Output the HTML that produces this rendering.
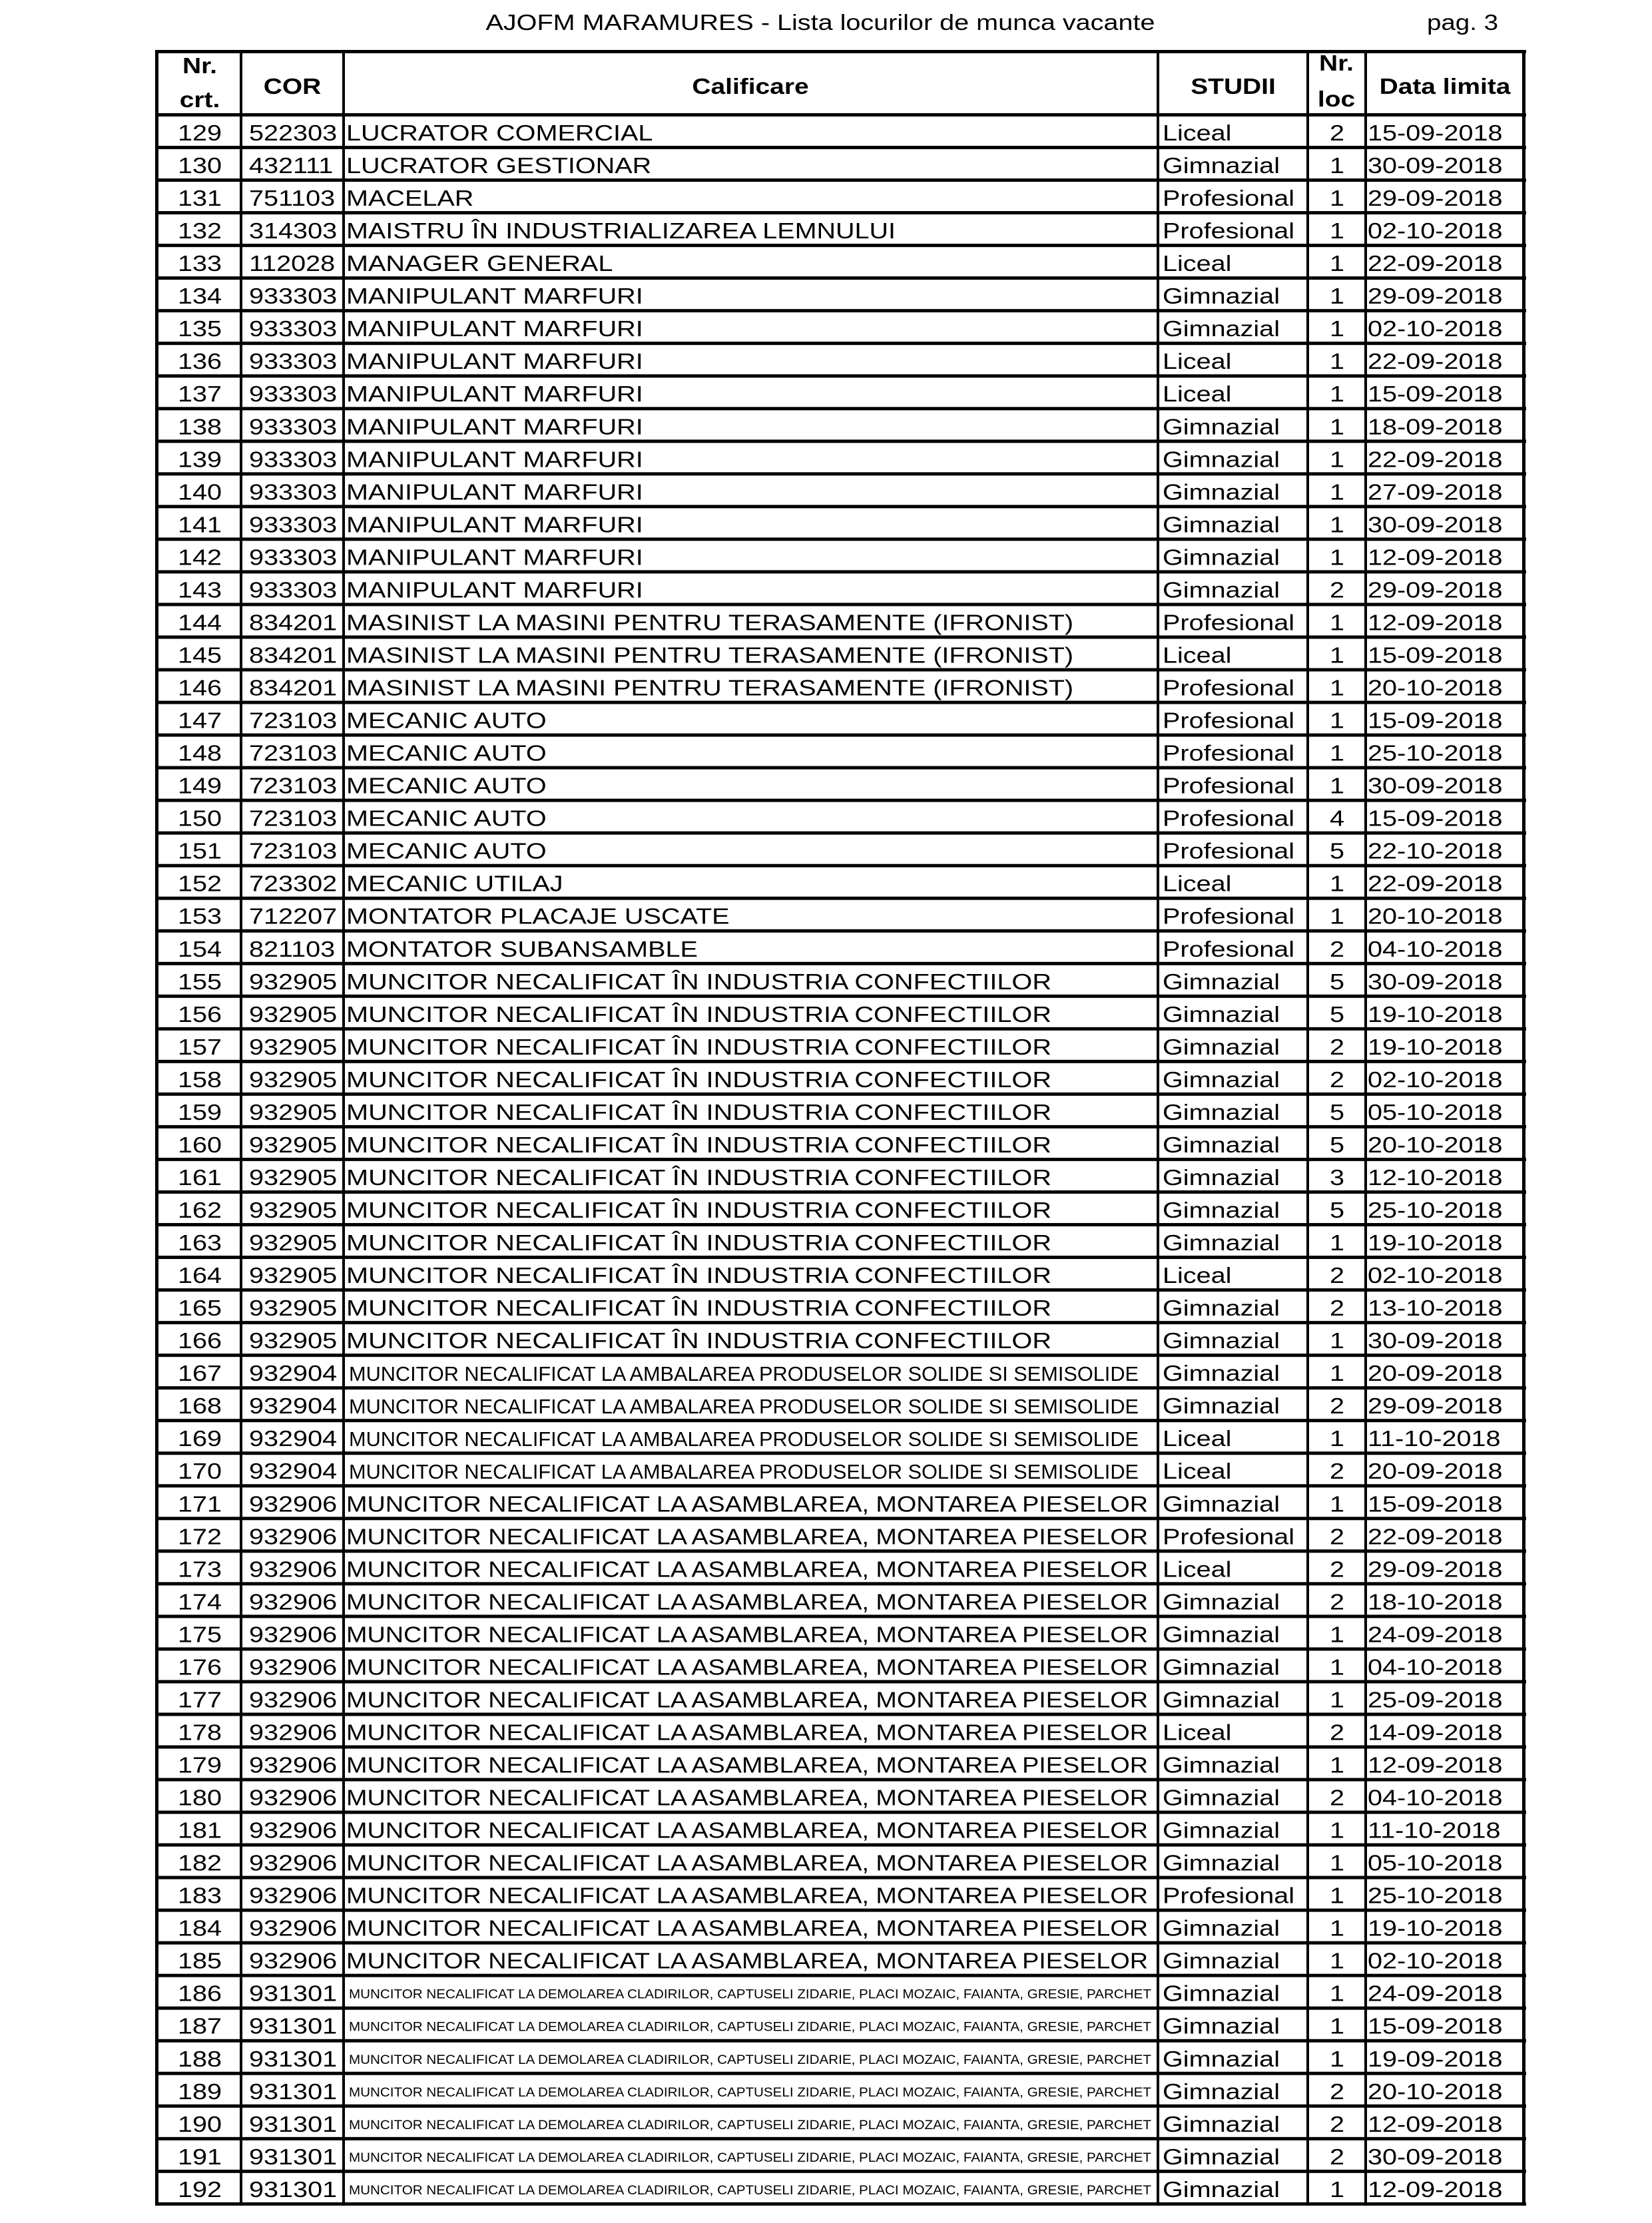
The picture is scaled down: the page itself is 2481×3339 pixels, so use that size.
<!DOCTYPE html>
<html><head><meta charset="utf-8"><style>
html,body{margin:0;padding:0;background:#fff;}
svg{display:block}
text{font-family:"Liberation Sans",sans-serif;fill:#000;font-size:33px}
.b{font-weight:bold}
.m{text-anchor:middle}
.s{font-size:31px}
.t{font-size:19px}
</style></head><body>
<svg width="2481" height="3339" viewBox="0 0 2481 3339" xmlns="http://www.w3.org/2000/svg">
<defs><pattern id="p" x="0" y="170" width="20" height="49.03" patternUnits="userSpaceOnUse"><rect x="0" y="0" width="20" height="5" fill="#000"/></pattern></defs>
<text class="m" style="font-size:33px" x="1232" y="45" textLength="1005" lengthAdjust="spacingAndGlyphs">AJOFM MARAMURES - Lista locurilor de munca vacante</text>
<text style="font-size:33px" x="2143" y="45" textLength="107" lengthAdjust="spacingAndGlyphs">pag. 3</text>
<rect x="233" y="75" width="2059" height="5" fill="#000"/>
<rect x="233" y="170" width="2059" height="3143" fill="url(#p)"/>
<g fill="#000">
<rect x="233" y="75" width="5" height="3238"/>
<rect x="360" y="75" width="4" height="3238"/>
<rect x="514" y="75" width="4" height="3238"/>
<rect x="1737" y="75" width="4" height="3238"/>
<rect x="1962" y="75" width="4" height="3238"/>
<rect x="2049" y="75" width="4" height="3238"/>
<rect x="2286" y="75" width="5" height="3238"/>
</g>
<g class="b">
<text class="b m" transform="translate(300,110) scale(1.18,1)">Nr.</text>
<text class="b m" transform="translate(300,161) scale(1.18,1)">crt.</text>
<text class="b m" transform="translate(439,141) scale(1.18,1)">COR</text>
<text class="b m" transform="translate(1127,141) scale(1.18,1)">Calificare</text>
<text class="b m" transform="translate(1852,141) scale(1.18,1)">STUDII</text>
<text class="b m" transform="translate(2007,106) scale(1.18,1)">Nr.</text>
<text class="b m" transform="translate(2007,160) scale(1.18,1)">loc</text>
<text class="b m" transform="translate(2170,141) scale(1.18,1)">Data limita</text>
</g>

<g transform="translate(0,211)"><text class="m" transform="translate(300,0) scale(1.2,1)">129</text><text transform="translate(374,0) scale(1.2,1)">522303</text><text transform="translate(520,0) scale(1.2,1)">LUCRATOR COMERCIAL</text><text transform="translate(1746,0) scale(1.2,1)">Liceal</text><text class="m" transform="translate(2008,0) scale(1.2,1)">2</text><text transform="translate(2054,0) scale(1.2,1)">15-09-2018</text></g>
<g transform="translate(0,260)"><text class="m" transform="translate(300,0) scale(1.2,1)">130</text><text transform="translate(374,0) scale(1.2,1)">432111</text><text transform="translate(520,0) scale(1.2,1)">LUCRATOR GESTIONAR</text><text transform="translate(1746,0) scale(1.2,1)">Gimnazial</text><text class="m" transform="translate(2008,0) scale(1.2,1)">1</text><text transform="translate(2054,0) scale(1.2,1)">30-09-2018</text></g>
<g transform="translate(0,309.1)"><text class="m" transform="translate(300,0) scale(1.2,1)">131</text><text transform="translate(374,0) scale(1.2,1)">751103</text><text transform="translate(520,0) scale(1.2,1)">MACELAR</text><text transform="translate(1746,0) scale(1.2,1)">Profesional</text><text class="m" transform="translate(2008,0) scale(1.2,1)">1</text><text transform="translate(2054,0) scale(1.2,1)">29-09-2018</text></g>
<g transform="translate(0,358.1)"><text class="m" transform="translate(300,0) scale(1.2,1)">132</text><text transform="translate(374,0) scale(1.2,1)">314303</text><text x="520" textLength="825" lengthAdjust="spacingAndGlyphs">MAISTRU ÎN INDUSTRIALIZAREA LEMNULUI</text><text transform="translate(1746,0) scale(1.2,1)">Profesional</text><text class="m" transform="translate(2008,0) scale(1.2,1)">1</text><text transform="translate(2054,0) scale(1.2,1)">02-10-2018</text></g>
<g transform="translate(0,407.1)"><text class="m" transform="translate(300,0) scale(1.2,1)">133</text><text transform="translate(374,0) scale(1.2,1)">112028</text><text transform="translate(520,0) scale(1.2,1)">MANAGER GENERAL</text><text transform="translate(1746,0) scale(1.2,1)">Liceal</text><text class="m" transform="translate(2008,0) scale(1.2,1)">1</text><text transform="translate(2054,0) scale(1.2,1)">22-09-2018</text></g>
<g transform="translate(0,456.2)"><text class="m" transform="translate(300,0) scale(1.2,1)">134</text><text transform="translate(374,0) scale(1.2,1)">933303</text><text transform="translate(520,0) scale(1.2,1)">MANIPULANT MARFURI</text><text transform="translate(1746,0) scale(1.2,1)">Gimnazial</text><text class="m" transform="translate(2008,0) scale(1.2,1)">1</text><text transform="translate(2054,0) scale(1.2,1)">29-09-2018</text></g>
<g transform="translate(0,505.2)"><text class="m" transform="translate(300,0) scale(1.2,1)">135</text><text transform="translate(374,0) scale(1.2,1)">933303</text><text transform="translate(520,0) scale(1.2,1)">MANIPULANT MARFURI</text><text transform="translate(1746,0) scale(1.2,1)">Gimnazial</text><text class="m" transform="translate(2008,0) scale(1.2,1)">1</text><text transform="translate(2054,0) scale(1.2,1)">02-10-2018</text></g>
<g transform="translate(0,554.2)"><text class="m" transform="translate(300,0) scale(1.2,1)">136</text><text transform="translate(374,0) scale(1.2,1)">933303</text><text transform="translate(520,0) scale(1.2,1)">MANIPULANT MARFURI</text><text transform="translate(1746,0) scale(1.2,1)">Liceal</text><text class="m" transform="translate(2008,0) scale(1.2,1)">1</text><text transform="translate(2054,0) scale(1.2,1)">22-09-2018</text></g>
<g transform="translate(0,603.2)"><text class="m" transform="translate(300,0) scale(1.2,1)">137</text><text transform="translate(374,0) scale(1.2,1)">933303</text><text transform="translate(520,0) scale(1.2,1)">MANIPULANT MARFURI</text><text transform="translate(1746,0) scale(1.2,1)">Liceal</text><text class="m" transform="translate(2008,0) scale(1.2,1)">1</text><text transform="translate(2054,0) scale(1.2,1)">15-09-2018</text></g>
<g transform="translate(0,652.3)"><text class="m" transform="translate(300,0) scale(1.2,1)">138</text><text transform="translate(374,0) scale(1.2,1)">933303</text><text transform="translate(520,0) scale(1.2,1)">MANIPULANT MARFURI</text><text transform="translate(1746,0) scale(1.2,1)">Gimnazial</text><text class="m" transform="translate(2008,0) scale(1.2,1)">1</text><text transform="translate(2054,0) scale(1.2,1)">18-09-2018</text></g>
<g transform="translate(0,701.3)"><text class="m" transform="translate(300,0) scale(1.2,1)">139</text><text transform="translate(374,0) scale(1.2,1)">933303</text><text transform="translate(520,0) scale(1.2,1)">MANIPULANT MARFURI</text><text transform="translate(1746,0) scale(1.2,1)">Gimnazial</text><text class="m" transform="translate(2008,0) scale(1.2,1)">1</text><text transform="translate(2054,0) scale(1.2,1)">22-09-2018</text></g>
<g transform="translate(0,750.3)"><text class="m" transform="translate(300,0) scale(1.2,1)">140</text><text transform="translate(374,0) scale(1.2,1)">933303</text><text transform="translate(520,0) scale(1.2,1)">MANIPULANT MARFURI</text><text transform="translate(1746,0) scale(1.2,1)">Gimnazial</text><text class="m" transform="translate(2008,0) scale(1.2,1)">1</text><text transform="translate(2054,0) scale(1.2,1)">27-09-2018</text></g>
<g transform="translate(0,799.4)"><text class="m" transform="translate(300,0) scale(1.2,1)">141</text><text transform="translate(374,0) scale(1.2,1)">933303</text><text transform="translate(520,0) scale(1.2,1)">MANIPULANT MARFURI</text><text transform="translate(1746,0) scale(1.2,1)">Gimnazial</text><text class="m" transform="translate(2008,0) scale(1.2,1)">1</text><text transform="translate(2054,0) scale(1.2,1)">30-09-2018</text></g>
<g transform="translate(0,848.4)"><text class="m" transform="translate(300,0) scale(1.2,1)">142</text><text transform="translate(374,0) scale(1.2,1)">933303</text><text transform="translate(520,0) scale(1.2,1)">MANIPULANT MARFURI</text><text transform="translate(1746,0) scale(1.2,1)">Gimnazial</text><text class="m" transform="translate(2008,0) scale(1.2,1)">1</text><text transform="translate(2054,0) scale(1.2,1)">12-09-2018</text></g>
<g transform="translate(0,897.4)"><text class="m" transform="translate(300,0) scale(1.2,1)">143</text><text transform="translate(374,0) scale(1.2,1)">933303</text><text transform="translate(520,0) scale(1.2,1)">MANIPULANT MARFURI</text><text transform="translate(1746,0) scale(1.2,1)">Gimnazial</text><text class="m" transform="translate(2008,0) scale(1.2,1)">2</text><text transform="translate(2054,0) scale(1.2,1)">29-09-2018</text></g>
<g transform="translate(0,946.5)"><text class="m" transform="translate(300,0) scale(1.2,1)">144</text><text transform="translate(374,0) scale(1.2,1)">834201</text><text x="520" textLength="1092" lengthAdjust="spacingAndGlyphs">MASINIST LA MASINI PENTRU TERASAMENTE (IFRONIST)</text><text transform="translate(1746,0) scale(1.2,1)">Profesional</text><text class="m" transform="translate(2008,0) scale(1.2,1)">1</text><text transform="translate(2054,0) scale(1.2,1)">12-09-2018</text></g>
<g transform="translate(0,995.5)"><text class="m" transform="translate(300,0) scale(1.2,1)">145</text><text transform="translate(374,0) scale(1.2,1)">834201</text><text x="520" textLength="1092" lengthAdjust="spacingAndGlyphs">MASINIST LA MASINI PENTRU TERASAMENTE (IFRONIST)</text><text transform="translate(1746,0) scale(1.2,1)">Liceal</text><text class="m" transform="translate(2008,0) scale(1.2,1)">1</text><text transform="translate(2054,0) scale(1.2,1)">15-09-2018</text></g>
<g transform="translate(0,1044.5)"><text class="m" transform="translate(300,0) scale(1.2,1)">146</text><text transform="translate(374,0) scale(1.2,1)">834201</text><text x="520" textLength="1092" lengthAdjust="spacingAndGlyphs">MASINIST LA MASINI PENTRU TERASAMENTE (IFRONIST)</text><text transform="translate(1746,0) scale(1.2,1)">Profesional</text><text class="m" transform="translate(2008,0) scale(1.2,1)">1</text><text transform="translate(2054,0) scale(1.2,1)">20-10-2018</text></g>
<g transform="translate(0,1093.5)"><text class="m" transform="translate(300,0) scale(1.2,1)">147</text><text transform="translate(374,0) scale(1.2,1)">723103</text><text transform="translate(520,0) scale(1.2,1)">MECANIC AUTO</text><text transform="translate(1746,0) scale(1.2,1)">Profesional</text><text class="m" transform="translate(2008,0) scale(1.2,1)">1</text><text transform="translate(2054,0) scale(1.2,1)">15-09-2018</text></g>
<g transform="translate(0,1142.6)"><text class="m" transform="translate(300,0) scale(1.2,1)">148</text><text transform="translate(374,0) scale(1.2,1)">723103</text><text transform="translate(520,0) scale(1.2,1)">MECANIC AUTO</text><text transform="translate(1746,0) scale(1.2,1)">Profesional</text><text class="m" transform="translate(2008,0) scale(1.2,1)">1</text><text transform="translate(2054,0) scale(1.2,1)">25-10-2018</text></g>
<g transform="translate(0,1191.6)"><text class="m" transform="translate(300,0) scale(1.2,1)">149</text><text transform="translate(374,0) scale(1.2,1)">723103</text><text transform="translate(520,0) scale(1.2,1)">MECANIC AUTO</text><text transform="translate(1746,0) scale(1.2,1)">Profesional</text><text class="m" transform="translate(2008,0) scale(1.2,1)">1</text><text transform="translate(2054,0) scale(1.2,1)">30-09-2018</text></g>
<g transform="translate(0,1240.6)"><text class="m" transform="translate(300,0) scale(1.2,1)">150</text><text transform="translate(374,0) scale(1.2,1)">723103</text><text transform="translate(520,0) scale(1.2,1)">MECANIC AUTO</text><text transform="translate(1746,0) scale(1.2,1)">Profesional</text><text class="m" transform="translate(2008,0) scale(1.2,1)">4</text><text transform="translate(2054,0) scale(1.2,1)">15-09-2018</text></g>
<g transform="translate(0,1289.7)"><text class="m" transform="translate(300,0) scale(1.2,1)">151</text><text transform="translate(374,0) scale(1.2,1)">723103</text><text transform="translate(520,0) scale(1.2,1)">MECANIC AUTO</text><text transform="translate(1746,0) scale(1.2,1)">Profesional</text><text class="m" transform="translate(2008,0) scale(1.2,1)">5</text><text transform="translate(2054,0) scale(1.2,1)">22-10-2018</text></g>
<g transform="translate(0,1338.7)"><text class="m" transform="translate(300,0) scale(1.2,1)">152</text><text transform="translate(374,0) scale(1.2,1)">723302</text><text transform="translate(520,0) scale(1.2,1)">MECANIC UTILAJ</text><text transform="translate(1746,0) scale(1.2,1)">Liceal</text><text class="m" transform="translate(2008,0) scale(1.2,1)">1</text><text transform="translate(2054,0) scale(1.2,1)">22-09-2018</text></g>
<g transform="translate(0,1387.7)"><text class="m" transform="translate(300,0) scale(1.2,1)">153</text><text transform="translate(374,0) scale(1.2,1)">712207</text><text transform="translate(520,0) scale(1.2,1)">MONTATOR PLACAJE USCATE</text><text transform="translate(1746,0) scale(1.2,1)">Profesional</text><text class="m" transform="translate(2008,0) scale(1.2,1)">1</text><text transform="translate(2054,0) scale(1.2,1)">20-10-2018</text></g>
<g transform="translate(0,1436.8)"><text class="m" transform="translate(300,0) scale(1.2,1)">154</text><text transform="translate(374,0) scale(1.2,1)">821103</text><text transform="translate(520,0) scale(1.2,1)">MONTATOR SUBANSAMBLE</text><text transform="translate(1746,0) scale(1.2,1)">Profesional</text><text class="m" transform="translate(2008,0) scale(1.2,1)">2</text><text transform="translate(2054,0) scale(1.2,1)">04-10-2018</text></g>
<g transform="translate(0,1485.8)"><text class="m" transform="translate(300,0) scale(1.2,1)">155</text><text transform="translate(374,0) scale(1.2,1)">932905</text><text x="520" textLength="1059" lengthAdjust="spacingAndGlyphs">MUNCITOR NECALIFICAT ÎN INDUSTRIA CONFECTIILOR</text><text transform="translate(1746,0) scale(1.2,1)">Gimnazial</text><text class="m" transform="translate(2008,0) scale(1.2,1)">5</text><text transform="translate(2054,0) scale(1.2,1)">30-09-2018</text></g>
<g transform="translate(0,1534.8)"><text class="m" transform="translate(300,0) scale(1.2,1)">156</text><text transform="translate(374,0) scale(1.2,1)">932905</text><text x="520" textLength="1059" lengthAdjust="spacingAndGlyphs">MUNCITOR NECALIFICAT ÎN INDUSTRIA CONFECTIILOR</text><text transform="translate(1746,0) scale(1.2,1)">Gimnazial</text><text class="m" transform="translate(2008,0) scale(1.2,1)">5</text><text transform="translate(2054,0) scale(1.2,1)">19-10-2018</text></g>
<g transform="translate(0,1583.8)"><text class="m" transform="translate(300,0) scale(1.2,1)">157</text><text transform="translate(374,0) scale(1.2,1)">932905</text><text x="520" textLength="1059" lengthAdjust="spacingAndGlyphs">MUNCITOR NECALIFICAT ÎN INDUSTRIA CONFECTIILOR</text><text transform="translate(1746,0) scale(1.2,1)">Gimnazial</text><text class="m" transform="translate(2008,0) scale(1.2,1)">2</text><text transform="translate(2054,0) scale(1.2,1)">19-10-2018</text></g>
<g transform="translate(0,1632.9)"><text class="m" transform="translate(300,0) scale(1.2,1)">158</text><text transform="translate(374,0) scale(1.2,1)">932905</text><text x="520" textLength="1059" lengthAdjust="spacingAndGlyphs">MUNCITOR NECALIFICAT ÎN INDUSTRIA CONFECTIILOR</text><text transform="translate(1746,0) scale(1.2,1)">Gimnazial</text><text class="m" transform="translate(2008,0) scale(1.2,1)">2</text><text transform="translate(2054,0) scale(1.2,1)">02-10-2018</text></g>
<g transform="translate(0,1681.9)"><text class="m" transform="translate(300,0) scale(1.2,1)">159</text><text transform="translate(374,0) scale(1.2,1)">932905</text><text x="520" textLength="1059" lengthAdjust="spacingAndGlyphs">MUNCITOR NECALIFICAT ÎN INDUSTRIA CONFECTIILOR</text><text transform="translate(1746,0) scale(1.2,1)">Gimnazial</text><text class="m" transform="translate(2008,0) scale(1.2,1)">5</text><text transform="translate(2054,0) scale(1.2,1)">05-10-2018</text></g>
<g transform="translate(0,1730.9)"><text class="m" transform="translate(300,0) scale(1.2,1)">160</text><text transform="translate(374,0) scale(1.2,1)">932905</text><text x="520" textLength="1059" lengthAdjust="spacingAndGlyphs">MUNCITOR NECALIFICAT ÎN INDUSTRIA CONFECTIILOR</text><text transform="translate(1746,0) scale(1.2,1)">Gimnazial</text><text class="m" transform="translate(2008,0) scale(1.2,1)">5</text><text transform="translate(2054,0) scale(1.2,1)">20-10-2018</text></g>
<g transform="translate(0,1780)"><text class="m" transform="translate(300,0) scale(1.2,1)">161</text><text transform="translate(374,0) scale(1.2,1)">932905</text><text x="520" textLength="1059" lengthAdjust="spacingAndGlyphs">MUNCITOR NECALIFICAT ÎN INDUSTRIA CONFECTIILOR</text><text transform="translate(1746,0) scale(1.2,1)">Gimnazial</text><text class="m" transform="translate(2008,0) scale(1.2,1)">3</text><text transform="translate(2054,0) scale(1.2,1)">12-10-2018</text></g>
<g transform="translate(0,1829)"><text class="m" transform="translate(300,0) scale(1.2,1)">162</text><text transform="translate(374,0) scale(1.2,1)">932905</text><text x="520" textLength="1059" lengthAdjust="spacingAndGlyphs">MUNCITOR NECALIFICAT ÎN INDUSTRIA CONFECTIILOR</text><text transform="translate(1746,0) scale(1.2,1)">Gimnazial</text><text class="m" transform="translate(2008,0) scale(1.2,1)">5</text><text transform="translate(2054,0) scale(1.2,1)">25-10-2018</text></g>
<g transform="translate(0,1878)"><text class="m" transform="translate(300,0) scale(1.2,1)">163</text><text transform="translate(374,0) scale(1.2,1)">932905</text><text x="520" textLength="1059" lengthAdjust="spacingAndGlyphs">MUNCITOR NECALIFICAT ÎN INDUSTRIA CONFECTIILOR</text><text transform="translate(1746,0) scale(1.2,1)">Gimnazial</text><text class="m" transform="translate(2008,0) scale(1.2,1)">1</text><text transform="translate(2054,0) scale(1.2,1)">19-10-2018</text></g>
<g transform="translate(0,1927.1)"><text class="m" transform="translate(300,0) scale(1.2,1)">164</text><text transform="translate(374,0) scale(1.2,1)">932905</text><text x="520" textLength="1059" lengthAdjust="spacingAndGlyphs">MUNCITOR NECALIFICAT ÎN INDUSTRIA CONFECTIILOR</text><text transform="translate(1746,0) scale(1.2,1)">Liceal</text><text class="m" transform="translate(2008,0) scale(1.2,1)">2</text><text transform="translate(2054,0) scale(1.2,1)">02-10-2018</text></g>
<g transform="translate(0,1976.1)"><text class="m" transform="translate(300,0) scale(1.2,1)">165</text><text transform="translate(374,0) scale(1.2,1)">932905</text><text x="520" textLength="1059" lengthAdjust="spacingAndGlyphs">MUNCITOR NECALIFICAT ÎN INDUSTRIA CONFECTIILOR</text><text transform="translate(1746,0) scale(1.2,1)">Gimnazial</text><text class="m" transform="translate(2008,0) scale(1.2,1)">2</text><text transform="translate(2054,0) scale(1.2,1)">13-10-2018</text></g>
<g transform="translate(0,2025.1)"><text class="m" transform="translate(300,0) scale(1.2,1)">166</text><text transform="translate(374,0) scale(1.2,1)">932905</text><text x="520" textLength="1059" lengthAdjust="spacingAndGlyphs">MUNCITOR NECALIFICAT ÎN INDUSTRIA CONFECTIILOR</text><text transform="translate(1746,0) scale(1.2,1)">Gimnazial</text><text class="m" transform="translate(2008,0) scale(1.2,1)">1</text><text transform="translate(2054,0) scale(1.2,1)">30-09-2018</text></g>
<g transform="translate(0,2074.1)"><text class="m" transform="translate(300,0) scale(1.2,1)">167</text><text transform="translate(374,0) scale(1.2,1)">932904</text><text class="s" x="524" textLength="1186" lengthAdjust="spacingAndGlyphs">MUNCITOR NECALIFICAT LA AMBALAREA PRODUSELOR SOLIDE SI SEMISOLIDE</text><text transform="translate(1746,0) scale(1.2,1)">Gimnazial</text><text class="m" transform="translate(2008,0) scale(1.2,1)">1</text><text transform="translate(2054,0) scale(1.2,1)">20-09-2018</text></g>
<g transform="translate(0,2123.2)"><text class="m" transform="translate(300,0) scale(1.2,1)">168</text><text transform="translate(374,0) scale(1.2,1)">932904</text><text class="s" x="524" textLength="1186" lengthAdjust="spacingAndGlyphs">MUNCITOR NECALIFICAT LA AMBALAREA PRODUSELOR SOLIDE SI SEMISOLIDE</text><text transform="translate(1746,0) scale(1.2,1)">Gimnazial</text><text class="m" transform="translate(2008,0) scale(1.2,1)">2</text><text transform="translate(2054,0) scale(1.2,1)">29-09-2018</text></g>
<g transform="translate(0,2172.2)"><text class="m" transform="translate(300,0) scale(1.2,1)">169</text><text transform="translate(374,0) scale(1.2,1)">932904</text><text class="s" x="524" textLength="1186" lengthAdjust="spacingAndGlyphs">MUNCITOR NECALIFICAT LA AMBALAREA PRODUSELOR SOLIDE SI SEMISOLIDE</text><text transform="translate(1746,0) scale(1.2,1)">Liceal</text><text class="m" transform="translate(2008,0) scale(1.2,1)">1</text><text transform="translate(2054,0) scale(1.2,1)">11-10-2018</text></g>
<g transform="translate(0,2221.2)"><text class="m" transform="translate(300,0) scale(1.2,1)">170</text><text transform="translate(374,0) scale(1.2,1)">932904</text><text class="s" x="524" textLength="1186" lengthAdjust="spacingAndGlyphs">MUNCITOR NECALIFICAT LA AMBALAREA PRODUSELOR SOLIDE SI SEMISOLIDE</text><text transform="translate(1746,0) scale(1.2,1)">Liceal</text><text class="m" transform="translate(2008,0) scale(1.2,1)">2</text><text transform="translate(2054,0) scale(1.2,1)">20-09-2018</text></g>
<g transform="translate(0,2270.3)"><text class="m" transform="translate(300,0) scale(1.2,1)">171</text><text transform="translate(374,0) scale(1.2,1)">932906</text><text x="520" textLength="1204" lengthAdjust="spacingAndGlyphs">MUNCITOR NECALIFICAT LA ASAMBLAREA, MONTAREA PIESELOR</text><text transform="translate(1746,0) scale(1.2,1)">Gimnazial</text><text class="m" transform="translate(2008,0) scale(1.2,1)">1</text><text transform="translate(2054,0) scale(1.2,1)">15-09-2018</text></g>
<g transform="translate(0,2319.3)"><text class="m" transform="translate(300,0) scale(1.2,1)">172</text><text transform="translate(374,0) scale(1.2,1)">932906</text><text x="520" textLength="1204" lengthAdjust="spacingAndGlyphs">MUNCITOR NECALIFICAT LA ASAMBLAREA, MONTAREA PIESELOR</text><text transform="translate(1746,0) scale(1.2,1)">Profesional</text><text class="m" transform="translate(2008,0) scale(1.2,1)">2</text><text transform="translate(2054,0) scale(1.2,1)">22-09-2018</text></g>
<g transform="translate(0,2368.3)"><text class="m" transform="translate(300,0) scale(1.2,1)">173</text><text transform="translate(374,0) scale(1.2,1)">932906</text><text x="520" textLength="1204" lengthAdjust="spacingAndGlyphs">MUNCITOR NECALIFICAT LA ASAMBLAREA, MONTAREA PIESELOR</text><text transform="translate(1746,0) scale(1.2,1)">Liceal</text><text class="m" transform="translate(2008,0) scale(1.2,1)">2</text><text transform="translate(2054,0) scale(1.2,1)">29-09-2018</text></g>
<g transform="translate(0,2417.4)"><text class="m" transform="translate(300,0) scale(1.2,1)">174</text><text transform="translate(374,0) scale(1.2,1)">932906</text><text x="520" textLength="1204" lengthAdjust="spacingAndGlyphs">MUNCITOR NECALIFICAT LA ASAMBLAREA, MONTAREA PIESELOR</text><text transform="translate(1746,0) scale(1.2,1)">Gimnazial</text><text class="m" transform="translate(2008,0) scale(1.2,1)">2</text><text transform="translate(2054,0) scale(1.2,1)">18-10-2018</text></g>
<g transform="translate(0,2466.4)"><text class="m" transform="translate(300,0) scale(1.2,1)">175</text><text transform="translate(374,0) scale(1.2,1)">932906</text><text x="520" textLength="1204" lengthAdjust="spacingAndGlyphs">MUNCITOR NECALIFICAT LA ASAMBLAREA, MONTAREA PIESELOR</text><text transform="translate(1746,0) scale(1.2,1)">Gimnazial</text><text class="m" transform="translate(2008,0) scale(1.2,1)">1</text><text transform="translate(2054,0) scale(1.2,1)">24-09-2018</text></g>
<g transform="translate(0,2515.4)"><text class="m" transform="translate(300,0) scale(1.2,1)">176</text><text transform="translate(374,0) scale(1.2,1)">932906</text><text x="520" textLength="1204" lengthAdjust="spacingAndGlyphs">MUNCITOR NECALIFICAT LA ASAMBLAREA, MONTAREA PIESELOR</text><text transform="translate(1746,0) scale(1.2,1)">Gimnazial</text><text class="m" transform="translate(2008,0) scale(1.2,1)">1</text><text transform="translate(2054,0) scale(1.2,1)">04-10-2018</text></g>
<g transform="translate(0,2564.4)"><text class="m" transform="translate(300,0) scale(1.2,1)">177</text><text transform="translate(374,0) scale(1.2,1)">932906</text><text x="520" textLength="1204" lengthAdjust="spacingAndGlyphs">MUNCITOR NECALIFICAT LA ASAMBLAREA, MONTAREA PIESELOR</text><text transform="translate(1746,0) scale(1.2,1)">Gimnazial</text><text class="m" transform="translate(2008,0) scale(1.2,1)">1</text><text transform="translate(2054,0) scale(1.2,1)">25-09-2018</text></g>
<g transform="translate(0,2613.5)"><text class="m" transform="translate(300,0) scale(1.2,1)">178</text><text transform="translate(374,0) scale(1.2,1)">932906</text><text x="520" textLength="1204" lengthAdjust="spacingAndGlyphs">MUNCITOR NECALIFICAT LA ASAMBLAREA, MONTAREA PIESELOR</text><text transform="translate(1746,0) scale(1.2,1)">Liceal</text><text class="m" transform="translate(2008,0) scale(1.2,1)">2</text><text transform="translate(2054,0) scale(1.2,1)">14-09-2018</text></g>
<g transform="translate(0,2662.5)"><text class="m" transform="translate(300,0) scale(1.2,1)">179</text><text transform="translate(374,0) scale(1.2,1)">932906</text><text x="520" textLength="1204" lengthAdjust="spacingAndGlyphs">MUNCITOR NECALIFICAT LA ASAMBLAREA, MONTAREA PIESELOR</text><text transform="translate(1746,0) scale(1.2,1)">Gimnazial</text><text class="m" transform="translate(2008,0) scale(1.2,1)">1</text><text transform="translate(2054,0) scale(1.2,1)">12-09-2018</text></g>
<g transform="translate(0,2711.5)"><text class="m" transform="translate(300,0) scale(1.2,1)">180</text><text transform="translate(374,0) scale(1.2,1)">932906</text><text x="520" textLength="1204" lengthAdjust="spacingAndGlyphs">MUNCITOR NECALIFICAT LA ASAMBLAREA, MONTAREA PIESELOR</text><text transform="translate(1746,0) scale(1.2,1)">Gimnazial</text><text class="m" transform="translate(2008,0) scale(1.2,1)">2</text><text transform="translate(2054,0) scale(1.2,1)">04-10-2018</text></g>
<g transform="translate(0,2760.6)"><text class="m" transform="translate(300,0) scale(1.2,1)">181</text><text transform="translate(374,0) scale(1.2,1)">932906</text><text x="520" textLength="1204" lengthAdjust="spacingAndGlyphs">MUNCITOR NECALIFICAT LA ASAMBLAREA, MONTAREA PIESELOR</text><text transform="translate(1746,0) scale(1.2,1)">Gimnazial</text><text class="m" transform="translate(2008,0) scale(1.2,1)">1</text><text transform="translate(2054,0) scale(1.2,1)">11-10-2018</text></g>
<g transform="translate(0,2809.6)"><text class="m" transform="translate(300,0) scale(1.2,1)">182</text><text transform="translate(374,0) scale(1.2,1)">932906</text><text x="520" textLength="1204" lengthAdjust="spacingAndGlyphs">MUNCITOR NECALIFICAT LA ASAMBLAREA, MONTAREA PIESELOR</text><text transform="translate(1746,0) scale(1.2,1)">Gimnazial</text><text class="m" transform="translate(2008,0) scale(1.2,1)">1</text><text transform="translate(2054,0) scale(1.2,1)">05-10-2018</text></g>
<g transform="translate(0,2858.6)"><text class="m" transform="translate(300,0) scale(1.2,1)">183</text><text transform="translate(374,0) scale(1.2,1)">932906</text><text x="520" textLength="1204" lengthAdjust="spacingAndGlyphs">MUNCITOR NECALIFICAT LA ASAMBLAREA, MONTAREA PIESELOR</text><text transform="translate(1746,0) scale(1.2,1)">Profesional</text><text class="m" transform="translate(2008,0) scale(1.2,1)">1</text><text transform="translate(2054,0) scale(1.2,1)">25-10-2018</text></g>
<g transform="translate(0,2907.7)"><text class="m" transform="translate(300,0) scale(1.2,1)">184</text><text transform="translate(374,0) scale(1.2,1)">932906</text><text x="520" textLength="1204" lengthAdjust="spacingAndGlyphs">MUNCITOR NECALIFICAT LA ASAMBLAREA, MONTAREA PIESELOR</text><text transform="translate(1746,0) scale(1.2,1)">Gimnazial</text><text class="m" transform="translate(2008,0) scale(1.2,1)">1</text><text transform="translate(2054,0) scale(1.2,1)">19-10-2018</text></g>
<g transform="translate(0,2956.7)"><text class="m" transform="translate(300,0) scale(1.2,1)">185</text><text transform="translate(374,0) scale(1.2,1)">932906</text><text x="520" textLength="1204" lengthAdjust="spacingAndGlyphs">MUNCITOR NECALIFICAT LA ASAMBLAREA, MONTAREA PIESELOR</text><text transform="translate(1746,0) scale(1.2,1)">Gimnazial</text><text class="m" transform="translate(2008,0) scale(1.2,1)">1</text><text transform="translate(2054,0) scale(1.2,1)">02-10-2018</text></g>
<g transform="translate(0,3005.7)"><text class="m" transform="translate(300,0) scale(1.2,1)">186</text><text transform="translate(374,0) scale(1.2,1)">931301</text><text class="t" x="524" y="-4" textLength="1205" lengthAdjust="spacingAndGlyphs">MUNCITOR NECALIFICAT LA DEMOLAREA CLADIRILOR, CAPTUSELI ZIDARIE, PLACI MOZAIC, FAIANTA, GRESIE, PARCHET</text><text transform="translate(1746,0) scale(1.2,1)">Gimnazial</text><text class="m" transform="translate(2008,0) scale(1.2,1)">1</text><text transform="translate(2054,0) scale(1.2,1)">24-09-2018</text></g>
<g transform="translate(0,3054.7)"><text class="m" transform="translate(300,0) scale(1.2,1)">187</text><text transform="translate(374,0) scale(1.2,1)">931301</text><text class="t" x="524" y="-4" textLength="1205" lengthAdjust="spacingAndGlyphs">MUNCITOR NECALIFICAT LA DEMOLAREA CLADIRILOR, CAPTUSELI ZIDARIE, PLACI MOZAIC, FAIANTA, GRESIE, PARCHET</text><text transform="translate(1746,0) scale(1.2,1)">Gimnazial</text><text class="m" transform="translate(2008,0) scale(1.2,1)">1</text><text transform="translate(2054,0) scale(1.2,1)">15-09-2018</text></g>
<g transform="translate(0,3103.8)"><text class="m" transform="translate(300,0) scale(1.2,1)">188</text><text transform="translate(374,0) scale(1.2,1)">931301</text><text class="t" x="524" y="-4" textLength="1205" lengthAdjust="spacingAndGlyphs">MUNCITOR NECALIFICAT LA DEMOLAREA CLADIRILOR, CAPTUSELI ZIDARIE, PLACI MOZAIC, FAIANTA, GRESIE, PARCHET</text><text transform="translate(1746,0) scale(1.2,1)">Gimnazial</text><text class="m" transform="translate(2008,0) scale(1.2,1)">1</text><text transform="translate(2054,0) scale(1.2,1)">19-09-2018</text></g>
<g transform="translate(0,3152.8)"><text class="m" transform="translate(300,0) scale(1.2,1)">189</text><text transform="translate(374,0) scale(1.2,1)">931301</text><text class="t" x="524" y="-4" textLength="1205" lengthAdjust="spacingAndGlyphs">MUNCITOR NECALIFICAT LA DEMOLAREA CLADIRILOR, CAPTUSELI ZIDARIE, PLACI MOZAIC, FAIANTA, GRESIE, PARCHET</text><text transform="translate(1746,0) scale(1.2,1)">Gimnazial</text><text class="m" transform="translate(2008,0) scale(1.2,1)">2</text><text transform="translate(2054,0) scale(1.2,1)">20-10-2018</text></g>
<g transform="translate(0,3201.8)"><text class="m" transform="translate(300,0) scale(1.2,1)">190</text><text transform="translate(374,0) scale(1.2,1)">931301</text><text class="t" x="524" y="-4" textLength="1205" lengthAdjust="spacingAndGlyphs">MUNCITOR NECALIFICAT LA DEMOLAREA CLADIRILOR, CAPTUSELI ZIDARIE, PLACI MOZAIC, FAIANTA, GRESIE, PARCHET</text><text transform="translate(1746,0) scale(1.2,1)">Gimnazial</text><text class="m" transform="translate(2008,0) scale(1.2,1)">2</text><text transform="translate(2054,0) scale(1.2,1)">12-09-2018</text></g>
<g transform="translate(0,3250.9)"><text class="m" transform="translate(300,0) scale(1.2,1)">191</text><text transform="translate(374,0) scale(1.2,1)">931301</text><text class="t" x="524" y="-4" textLength="1205" lengthAdjust="spacingAndGlyphs">MUNCITOR NECALIFICAT LA DEMOLAREA CLADIRILOR, CAPTUSELI ZIDARIE, PLACI MOZAIC, FAIANTA, GRESIE, PARCHET</text><text transform="translate(1746,0) scale(1.2,1)">Gimnazial</text><text class="m" transform="translate(2008,0) scale(1.2,1)">2</text><text transform="translate(2054,0) scale(1.2,1)">30-09-2018</text></g>
<g transform="translate(0,3299.9)"><text class="m" transform="translate(300,0) scale(1.2,1)">192</text><text transform="translate(374,0) scale(1.2,1)">931301</text><text class="t" x="524" y="-4" textLength="1205" lengthAdjust="spacingAndGlyphs">MUNCITOR NECALIFICAT LA DEMOLAREA CLADIRILOR, CAPTUSELI ZIDARIE, PLACI MOZAIC, FAIANTA, GRESIE, PARCHET</text><text transform="translate(1746,0) scale(1.2,1)">Gimnazial</text><text class="m" transform="translate(2008,0) scale(1.2,1)">1</text><text transform="translate(2054,0) scale(1.2,1)">12-09-2018</text></g>
</svg>
</body></html>
